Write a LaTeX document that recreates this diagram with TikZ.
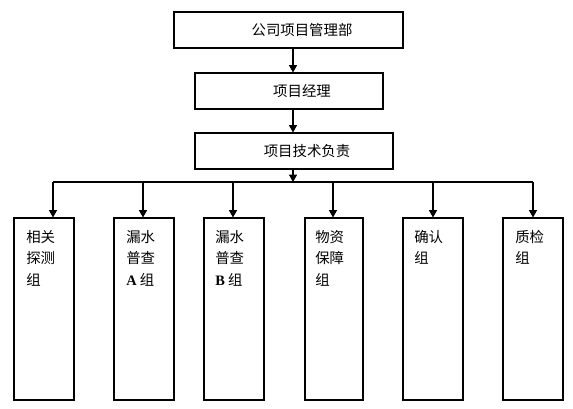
\documentclass[tikz,border=0pt]{standalone}
\usepackage{fontspec}
\setmainfont{Noto Sans CJK SC}
\newfontfamily\latinfont{Liberation Serif}
\usetikzlibrary{arrows.meta}
\begin{document}
\begin{tikzpicture}[x=0.75pt,y=-0.75pt,
  box/.style={draw,line width=0.8pt,inner sep=0pt},
  txt/.style={inner sep=0pt,font=\fontsize{10.8pt}{16.1pt}\selectfont},
  grouptxt/.style={txt,anchor=north west,align=left},
  arr/.style={line width=0.8pt,-{Triangle[length=5.5pt,width=6pt]}},
  bus/.style={line width=0.8pt}]
\useasboundingbox[fill=white] (0,0) rectangle (573,408);
% top chain
\node[box,minimum width=229*0.75pt,minimum height=36*0.75pt] (b1) at (288.5,30) {};
\node[txt] (t1) at (302,30) {公司项目管理部};
\node[box,minimum width=188*0.75pt,minimum height=36*0.75pt] (b2) at (289,91) {};
\node[txt] (t2) at (302,91) {项目经理};
\node[box,minimum width=198*0.75pt,minimum height=36*0.75pt] (b3) at (294,151) {};
\node[txt] (t3) at (307,151) {项目技术负责};
\coordinate (ax) at (293,0);
\draw[arr] (b1.south -| ax) -- (b2.north -| ax);
\draw[arr] (b2.south -| ax) -- (b3.north -| ax);
% bus
\coordinate (busL) at (53,182);
\coordinate (busR) at (533,182);
\coordinate (busM) at (293,182);
\draw[bus] (busL) -- (busR);
\draw[arr] (b3.south -| ax) -- (busM);
% groups
\foreach \n/\cx/\w in {g1/44/60, g2/144/60, g3/234/60, g4/334/58, g5/433/60, g6/533/60}{
  \node[box,minimum width=\w*0.75pt,minimum height=182*0.75pt] (\n) at (\cx,309) {};
}
\foreach \n/\dx in {g1/53, g2/143, g3/233, g4/333, g5/433, g6/533}{
  \draw[arr] (\dx,182) -- (\n.north -| \dx,0);
}
\node[grouptxt] (l1) at (26,230) {相关\\探测\\组};
\node[grouptxt] (l2) at (126,230) {漏水\\普查\\{\latinfont\bfseries A} 组};
\node[grouptxt] (l3) at (215,230) {漏水\\普查\\{\latinfont\bfseries B} 组};
\node[grouptxt] (l4) at (315,230) {物资\\保障\\组};
\node[grouptxt] (l5) at (414,230) {确认\\组};
\node[grouptxt] (l6) at (515,230) {质检\\组};
\end{tikzpicture}
\end{document}
